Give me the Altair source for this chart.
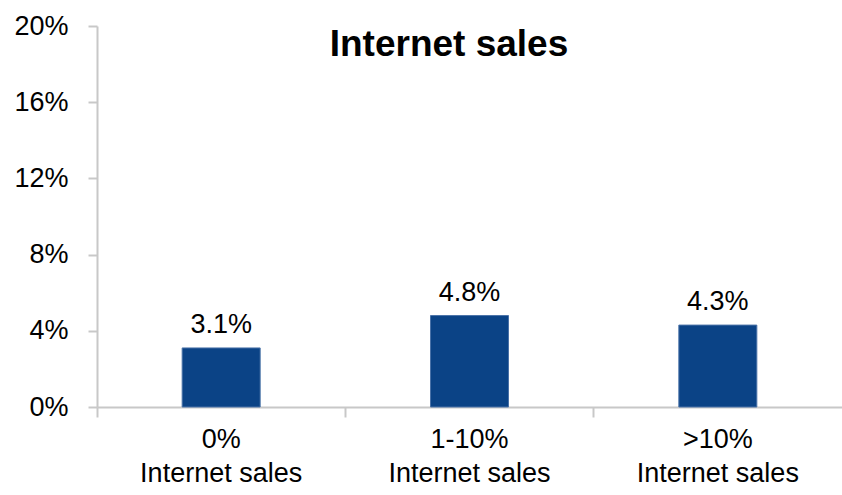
import altair as alt
import pandas as pd

categories = ["0%", "1-10%", ">10%"]
values = [0.031, 0.048, 0.043]
value_labels = ["3.1%", "4.8%", "4.3%"]
y_ticks = [0, 0.04, 0.08, 0.12, 0.16, 0.20]
title_text = "Internet sales"
sub_label = "Internet sales"

df = pd.DataFrame({"cat": categories, "val": values, "lab": value_labels})

FONT = "Liberation Sans Narrow, Arial Narrow, Liberation Sans, Arial"
AX = "#c8c8c8"
FS = 27

x_enc = alt.X(
    "cat:N",
    sort=categories,
    scale=alt.Scale(paddingInner=0, paddingOuter=0),
    axis=alt.Axis(
        title=None,
        labelAngle=0,
        labelExpr="[datum.label, '%s']" % sub_label,
        labelFont=FONT,
        labelFontSize=FS,
        labelColor="#000000",
        labelLineHeight=34,
        labelPadding=9,
        labelBaseline="top",
        labelLimit=0,
        bandPosition=0,
        tickColor=AX,
        tickSize=10,
        tickWidth=2,
        domainColor=AX,
        domainWidth=2,
        grid=False,
    ),
)
y_enc = alt.Y(
    "val:Q",
    scale=alt.Scale(domain=[0, 0.2], nice=False),
    axis=alt.Axis(
        title=None,
        values=y_ticks,
        format=".0%",
        labelFont=FONT,
        labelFontSize=FS,
        labelColor="#000000",
        labelPadding=20,
        tickColor=AX,
        tickSize=9,
        tickWidth=2,
        domainColor=AX,
        domainWidth=2,
        grid=False,
    ),
)

bars = alt.Chart(df).mark_bar(size=78, color="#0b4386", stroke="#4a72a8", strokeWidth=1).encode(
    x=x_enc, y=y_enc
)
labels = alt.Chart(df).mark_text(
    font=FONT, fontSize=FS, color="#000000", baseline="alphabetic", dy=-15
).encode(x=alt.X("cat:N", sort=categories), y="val:Q", text="lab:N")

title = alt.Chart(pd.DataFrame({"t": [title_text]})).mark_text(
    font=FONT, fontSize=37, fontWeight="bold", color="#000000", baseline="alphabetic", align="center"
).encode(x=alt.value(352), y=alt.value(30), text="t:N")

chart = (
    alt.layer(bars, labels, title)
    .properties(
        width=745,
        height=381,
        padding={"left": 97, "top": 26, "right": 0, "bottom": 88},
        autosize=alt.AutoSizeParams(type="none"),
        background="#ffffff",
    )
    .configure_view(stroke=None)
)

chart.save("out.html", embed_options={"renderer": "svg", "actions": False})
